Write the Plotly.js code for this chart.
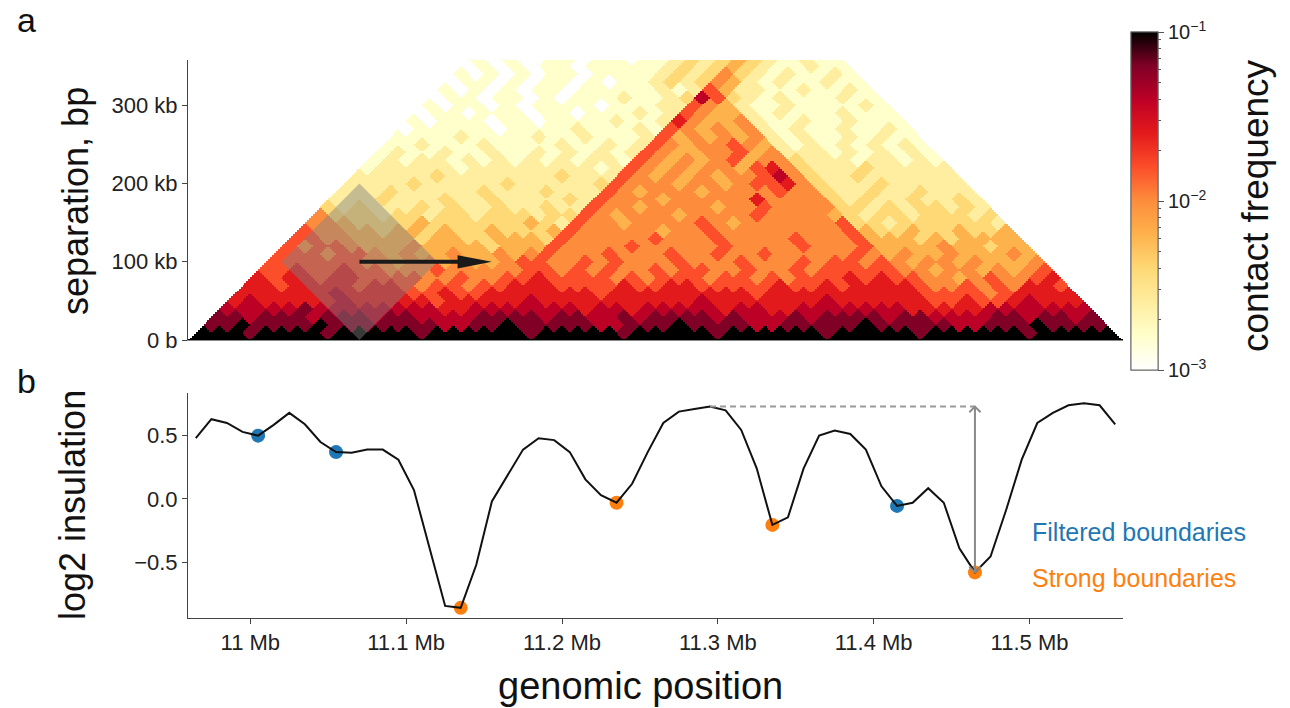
<!DOCTYPE html>
<html><head><meta charset="utf-8">
<script src="https://cdn.plot.ly/plotly-3.0.1.min.js"></script>
<style>html,body{margin:0;padding:0;background:#fff}#chart{width:1290px;height:708px}</style>
</head><body><div id="chart"></div>
<script>
// ---------------- data ----------------
// Hi-C region geometry (10 kb bins, 10.96 - 11.56 Mb)
const regionStartMb = 10.96;
const binSizeMb = 0.01;
const nBins = 60;
// contact frequency, one string per diagonal (d = 0..36), one letter per bin i (pixel i, i+d)
// letter -> log10(contact frequency)
const levelLog10 = {a:-3.0, b:-2.8, c:-2.6, d:-2.4, e:-2.2, f:-2.0, g:-1.8, h:-1.6, i:-1.4, j:-1.2, k:-1.0};
const contactDiagonals = [
 'kkkkkkkkkk'+'kkkkkkkkkk'+'kkkkkkkkkk'+'kkkkkkkkkk'+'kkkkkkkkkk'+'kkkkkkkkkk',
 'kkkjkkkkjk'+'kkkkjkkkkk'+'kjkkkkkjkk'+'kkkjkkkkkk'+'jkkkkkjkkk'+'kkkjkkkkk',
 'jjkjjjjkjj'+'jjjjjiijjk'+'jjjjjiijjj'+'kjjjjiijjj'+'jjkjjjjjii'+'jjjkjjjj',
 'jjijjjijjj'+'ijjiiiijjj'+'jijjiijijj'+'jjijiiijij'+'jjjijjiiii'+'jjijjij',
 'iiiiijiiii'+'iiiihhiiii'+'iiihiihiii'+'iihiihhiii'+'iiiihhhhhi'+'iiiiii',
 'hihhhhhihh'+'hhhghhhhhi'+'hhhhhhhhhh'+'ihhhhhhhih'+'hhhhhgghgg'+'hihhh',
 'hhhhhhihhh'+'hgghgghhhh'+'hhhghhhhhh'+'hhhghhhhhh'+'hhhhggggfg'+'hhhh',
 'hhghhhhghh'+'gfggfgghhh'+'gggghgghhg'+'gggghgghgh'+'hhhgffgfgf'+'hhg',
 'hghhghhggg'+'gffgffgghg'+'gggfgfgggf'+'ggfgfggghg'+'hggffefgff'+'gh',
 'gghgghggff'+'fgfffffggf'+'gfgffgfggf'+'fgffgfgggg'+'gffeffefef'+'g',
 'ggggggffef'+'fefeefggff'+'gfgfffgfff'+'gfffgfggfg'+'feffefeeef',
 'gggfggfefe'+'efeefefgff'+'fgfffgffgf'+'fgfffffgfe'+'feefeeefe',
 'gfggfeeefe'+'eeedeeegff'+'ffgfffffgf'+'fffgfffgee'+'eefeedee',
 'ggffeeeede'+'eddeeedgff'+'fffgfffgff'+'ffgfffgeee'+'dedeeee',
 'gffeedeede'+'ddedddegff'+'fffeffgfff'+'fffffgedde'+'ddedde',
 'ffeddddedd'+'ddddedcgff'+'effffgfeff'+'ffffgddcdd'+'ddddc',
 'fdddcddcdd'+'cdddcddgfe'+'fffeffffgf'+'fffedcddcd'+'ddcd',
 'dcdcccdcdc'+'cdccdccgff'+'effffeffgf'+'fffddcdcdd'+'cdc',
 'cccdcccdcc'+'dccccdcgff'+'fefffffhff'+'ffdcdccdcc'+'dc',
 'cccdcccccd'+'cccdcccgfe'+'fffeffffgf'+'fdccdccdcc'+'c',
 'ccccdccccc'+'dcccccdgff'+'feffefgghf'+'dcccdccccc',
 'cccccdcccc'+'cccdcccgfe'+'fefeffgifd'+'ccdcccccc',
 'bcccccbccc'+'cccccbcgfe'+'feffeghfdc'+'ccdccccc',
 'bcbccbcbcb'+'cbcbccbgfe'+'fefgeffdcc'+'cbccbcb',
 'bcbbcbbcbb'+'cbcbcbcgfe'+'effgefcccb'+'cbcbcb',
 'bbcbbbcbbb'+'bcbbcbcgfe'+'ffgfecbcbc'+'bcbcb',
 'bbbbcbbbbc'+'bbcbbbcgef'+'efefcbcbbc'+'bcbb',
 'abbbbbabbb'+'bcbbbcbgfe'+'fefcbcbbcb'+'bcb',
 'babbbabbab'+'bbbcbbchfe'+'efcbbcbbcb'+'bb',
 'abbabbbabb'+'abbbcbcgfe'+'ecbcbbbcbb'+'b',
 'babbababbb'+'babbbccgfe'+'cbbcbbbbcb',
 'abbabbabab'+'bbcbbcdigd'+'cbcbbbcbb',
 'babababbab'+'bbbbcbcgec'+'cbbcbbcb',
 'abbababbab'+'abbcdcdfec'+'bcbbcbb',
 'babababbab'+'bbbcdcdfdc'+'bcbbcb',
 'abababbabb'+'bbbcdcdedc'+'bbcbb',
 'babaabbabb'+'abbcdcdedc'+'bcbb'
];
// insulation window (diamond) and arrow
const windowCenterMb = 11.07;
const windowHalfMb = 0.1;
const arrowEndMb = 11.155;

// insulation track (bin centres, Mb) and log2 insulation
const insulationPosMb = [10.965,10.975,10.985,10.995,11.005,11.015,11.025,11.035,11.045,11.055,
 11.065,11.075,11.085,11.095,11.105,11.115,11.125,11.135,11.145,11.155,
 11.165,11.175,11.185,11.195,11.205,11.215,11.225,11.235,11.245,11.255,
 11.265,11.275,11.285,11.295,11.305,11.315,11.325,11.335,11.345,11.355,
 11.365,11.375,11.385,11.395,11.405,11.415,11.425,11.435,11.445,11.455,
 11.465,11.475,11.485,11.495,11.505,11.515,11.525,11.535,11.545,11.555];
const log2Insulation = [0.48,0.63,0.60,0.53,0.50,0.585,0.68,0.59,0.45,0.37,
 0.365,0.39,0.39,0.31,0.07,-0.38,-0.845,-0.86,-0.52,-0.02,
 0.19,0.39,0.48,0.465,0.37,0.155,0.03,-0.03,0.12,0.37,
 0.60,0.69,0.71,0.73,0.70,0.545,0.24,-0.205,-0.145,0.24,
 0.50,0.54,0.513,0.39,0.10,-0.055,-0.03,0.085,-0.03,-0.39,
 -0.58,-0.455,-0.087,0.31,0.60,0.68,0.74,0.755,0.74,0.59];
const filteredIdx = [4, 9, 45];
const strongIdx = [17, 27, 37, 50];
const peakIdx = 33;       // reference peak for boundary strength
const exampleIdx = 50;    // boundary whose strength is shown

const sepTickVals = [0, 0.1, 0.2, 0.3];
const sepTickText = ['0 b', '100 kb', '200 kb', '300 kb'];
const posTickVals = [11.0, 11.1, 11.2, 11.3, 11.4, 11.5];
const posTickText = ['11 Mb', '11.1 Mb', '11.2 Mb', '11.3 Mb', '11.4 Mb', '11.5 Mb'];
const insTickVals = [-0.5, 0, 0.5];
const insTickText = ['\u22120.5', '0.0', '0.5'];
const cbMajorVals = [-3, -2, -1];
const cbMajorText = ['10<sup>\u22123</sup>', '10<sup>\u22122</sup>', '10<sup>\u22121</sup>'];

// ---------------- build ----------------
const FONT = 'Liberation Sans, Arial, Helvetica, sans-serif';
const fallColors = ['#ffffff','#ffffcc','#ffeda0','#fed976','#feb24c','#fd8d3c','#fc4e2a','#e31a1c','#bd0026','#800026','#000000'];
const fallScale = fallColors.map((c, i) => [i / (fallColors.length - 1), c]);

// resample the 45-degree rotated matrix onto a fine (position, separation) grid
const sub = 8;
const sepMax = 0.36;
const fineX = [], fineY = [];
for (let a = 0; a < nBins * sub; a++) fineX.push(regionStartMb + (a + 0.5) * binSizeMb / sub);
for (let b = 0; b < Math.round(sepMax / (binSizeMb / sub)); b++) fineY.push((b + 0.5) * binSizeMb / sub);
const zFine = fineY.map(s => fineX.map(m => {
  const i = Math.floor((m - s / 2 - regionStartMb) / binSizeMb);
  const j = Math.floor((m + s / 2 - regionStartMb) / binSizeMb);
  if (i < 0 || j >= nBins || j < i) return null;
  const row = contactDiagonals[j - i];
  if (!row || i >= row.length) return null;
  const v = levelLog10[row[i]];
  return v === undefined ? null : v;
}));

const minorVals = [];
[-3, -2].forEach(e => { for (let k = 2; k <= 9; k++) minorVals.push(Math.log10(k) + e); });

const cbCommon = {
  x: 1131 / 1290, xanchor: 'left', xpad: 0,
  y: 1 - 32 / 708, yanchor: 'top', ypad: 0,
  len: 338, lenmode: 'pixels', thickness: 27, thicknessmode: 'pixels',
  outlinewidth: 1, outlinecolor: '#666', ticks: 'outside', tickcolor: '#555', tickwidth: 1
};

const heat = {
  type: 'heatmap', x: fineX, y: fineY, z: zFine, zmin: -3, zmax: -1,
  colorscale: fallScale, zsmooth: false, hoverinfo: 'skip', xaxis: 'x', yaxis: 'y',
  colorbar: Object.assign({}, cbCommon, {tickmode: 'array', tickvals: minorVals, ticklen: 3, showticklabels: false})
};
const cbMajor = {
  type: 'scatter', mode: 'markers', x: [insulationPosMb[0]], y: [-1], xaxis: 'x', yaxis: 'y',
  hoverinfo: 'skip', showlegend: false,
  marker: {opacity: 0, size: 1, color: [-2], cmin: -3, cmax: -1, colorscale: fallScale, showscale: true,
    colorbar: Object.assign({}, cbCommon, {tickmode: 'array', tickvals: cbMajorVals, ticktext: cbMajorText, ticklen: 6,
      tickfont: {size: 20, color: '#222', family: FONT}})}
};

const pick = (arr, idx) => idx.map(k => arr[k]);
const filteredDots = {
  type: 'scatter', mode: 'markers', x: pick(insulationPosMb, filteredIdx), y: pick(log2Insulation, filteredIdx),
  xaxis: 'x2', yaxis: 'y2', marker: {size: 14, color: '#1f77b4'}, hoverinfo: 'skip', cliponaxis: false
};
const strongDots = {
  type: 'scatter', mode: 'markers', x: pick(insulationPosMb, strongIdx), y: pick(log2Insulation, strongIdx),
  xaxis: 'x2', yaxis: 'y2', marker: {size: 14, color: '#ff7f0e'}, hoverinfo: 'skip', cliponaxis: false
};
const insLine = {
  type: 'scatter', mode: 'lines', x: insulationPosMb, y: log2Insulation, xaxis: 'x2', yaxis: 'y2',
  line: {color: '#111', width: 2}, hoverinfo: 'skip'
};

// boundary strength guide
const px = insulationPosMb[peakIdx], py = log2Insulation[peakIdx];
const bx = insulationPosMb[exampleIdx], by = log2Insulation[exampleIdx];
const chevX = 0.0036, chevY = 0.045;

// arrow head sizes (data units) for the sliding-window arrow
const headLen = 0.022, headHalf = 0.0085;

const shapes = [
  {type: 'path', xref: 'x', yref: 'y',
   path: `M ${windowCenterMb},0 L ${windowCenterMb - windowHalfMb / 2},${windowHalfMb} L ${windowCenterMb},${2 * windowHalfMb} L ${windowCenterMb + windowHalfMb / 2},${windowHalfMb} Z`,
   fillcolor: 'rgba(128,128,128,0.45)', line: {width: 0}},
  {type: 'line', xref: 'x', yref: 'y', x0: windowCenterMb, y0: windowHalfMb, x1: arrowEndMb - headLen * 0.8, y1: windowHalfMb,
   line: {color: '#1a1a1a', width: 4}},
  {type: 'path', xref: 'x', yref: 'y',
   path: `M ${arrowEndMb},${windowHalfMb} L ${arrowEndMb - headLen},${windowHalfMb + headHalf} L ${arrowEndMb - headLen},${windowHalfMb - headHalf} Z`,
   fillcolor: '#1a1a1a', line: {width: 0}},
  {type: 'line', xref: 'x2', yref: 'y2', x0: px, y0: py, x1: bx, y1: py,
   line: {color: '#9a9a9a', width: 2, dash: '6px,4px'}},
  {type: 'line', xref: 'x2', yref: 'y2', x0: bx, y0: py, x1: bx, y1: by,
   line: {color: '#8a8a8a', width: 2}},
  {type: 'path', xref: 'x2', yref: 'y2',
   path: `M ${bx - chevX},${py - chevY} L ${bx},${py} L ${bx + chevX},${py - chevY}`,
   line: {color: '#8a8a8a', width: 2}},
  {type: 'path', xref: 'x2', yref: 'y2',
   path: `M ${bx - chevX},${by + chevY} L ${bx},${by} L ${bx + chevX},${by + chevY}`,
   line: {color: '#8a8a8a', width: 2}}
];

const P = (x, y) => ({x: x / 1290, y: 1 - y / 708});
const ann = (pos, text, size, opts) => Object.assign({xref: 'paper', yref: 'paper', x: pos.x, y: pos.y, text: text,
  xanchor: 'center', yanchor: 'middle', showarrow: false, font: {family: FONT, size: size, color: '#111'}}, opts || {});
const annotations = [
  ann(P(26, 20), 'a', 34),
  ann(P(26, 381), 'b', 34),
  ann(P(75, 201), 'separation, bp', 36, {textangle: -90}),
  ann(P(73, 505), 'log2 insulation', 36, {textangle: -90}),
  ann(P(640, 686), 'genomic position', 38),
  ann(P(1255, 206), 'contact frequency', 37, {textangle: -90}),
  ann(P(1030, 532), 'Filtered boundaries', 25, {xanchor: 'left', font: {family: FONT, size: 25, color: '#1f77b4'}}),
  ann(P(1030, 578), 'Strong boundaries', 25, {xanchor: 'left', font: {family: FONT, size: 25, color: '#ff7f0e'}})
];

const axCommon = {showgrid: false, zeroline: false, showline: true, linecolor: '#444', linewidth: 1,
  tickcolor: '#444', tickwidth: 1, ticklen: 5, fixedrange: true, tickfont: {family: FONT, size: 22, color: '#222'}};
const xDom = [188 / 1290, 1123 / 1290];
const layout = {
  width: 1290, height: 708, margin: {l: 0, r: 0, t: 0, b: 0},
  paper_bgcolor: '#ffffff', plot_bgcolor: 'rgba(0,0,0,0)',
  font: {family: FONT, size: 22, color: '#222'}, showlegend: false, hovermode: false,
  xaxis: Object.assign({}, axCommon, {domain: xDom, range: [10.96, 11.56], anchor: 'y', showticklabels: false, ticks: '', linecolor: '#888'}),
  yaxis: Object.assign({}, axCommon, {domain: [1 - 340 / 708, 1 - 60 / 708], range: [0, 0.358], anchor: 'x',
    tickmode: 'array', tickvals: sepTickVals, ticktext: sepTickText, ticks: 'outside'}),
  xaxis2: Object.assign({}, axCommon, {domain: xDom, range: [10.96, 11.56], anchor: 'y2',
    tickmode: 'array', tickvals: posTickVals, ticktext: posTickText, ticks: 'outside'}),
  yaxis2: Object.assign({}, axCommon, {domain: [1 - 617.7 / 708, 1 - 393 / 708], range: [-0.938, 0.837], anchor: 'x2',
    tickmode: 'array', tickvals: insTickVals, ticktext: insTickText, ticks: 'outside'}),
  shapes: shapes, annotations: annotations
};

Plotly.newPlot('chart', [heat, cbMajor, filteredDots, strongDots, insLine], layout, {displayModeBar: false, staticPlot: true});
</script>
</body></html>
